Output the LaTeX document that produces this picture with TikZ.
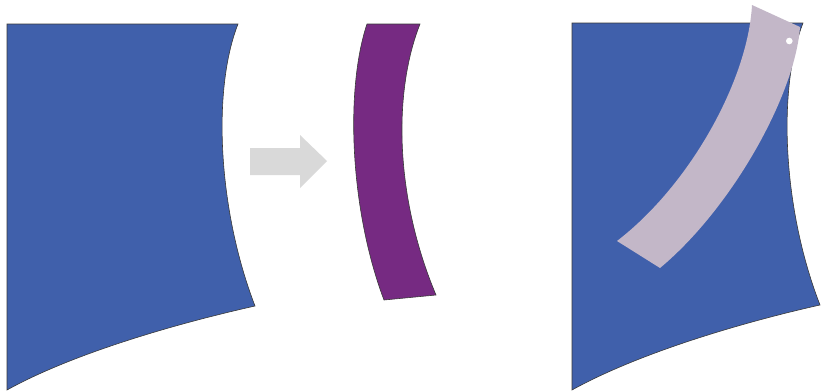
\documentclass[tikz,border=0pt]{standalone}
\begin{document}
\begin{tikzpicture}[x=1pt,y=-1pt,
  bluesheet/.style={fill=sheetblue,draw=edgegray,line width=0.6pt,line join=miter},
  purpleband/.style={fill=bandpurple,draw=edgegray,line width=0.6pt},
  lightband/.style={fill=bandlight,draw=none},
  grayarrow/.style={fill=arrowgray,draw=none}]
\definecolor{sheetblue}{HTML}{4060AB}
\definecolor{bandpurple}{HTML}{762A82}
\definecolor{bandlight}{HTML}{C3B7C8}
\definecolor{arrowgray}{HTML}{D9D9D9}
\definecolor{edgegray}{HTML}{3A3A3A}
\useasboundingbox (0,0) rectangle (823,391);
% left sheet
\path[bluesheet] (7,24) -- (238,24) .. controls (212,90) and (218,210) .. (255,306)
  .. controls (170,325) and (70,355) .. (7,390) -- cycle;
% arrow
\path[grayarrow] (250,148) -- (300,148) -- (300,135) -- (327,161) -- (300,188)
  -- (300,175) -- (250,175) -- cycle;
% purple band
\path[purpleband] (367,24) -- (420,24) .. controls (392,95) and (396,200) .. (436,295)
  -- (384,300) .. controls (350,210) and (345,90) .. (367,24) -- cycle;
% right sheet
\begin{scope}[xshift=565pt]
\path[bluesheet] (7,23) -- (238,23) .. controls (212,90) and (218,210) .. (255,305)
  .. controls (170,324) and (70,355) .. (7,390) -- cycle;
\end{scope}
% light band
\path[lightband] (752,5) -- (800,27) .. controls (795,95) and (732,208) .. (660,268)
  -- (617,241) .. controls (690,185) and (748,80) .. (752,5) -- cycle;
\fill[white] (789.3,41) circle (3.3);
\end{tikzpicture}
\end{document}
